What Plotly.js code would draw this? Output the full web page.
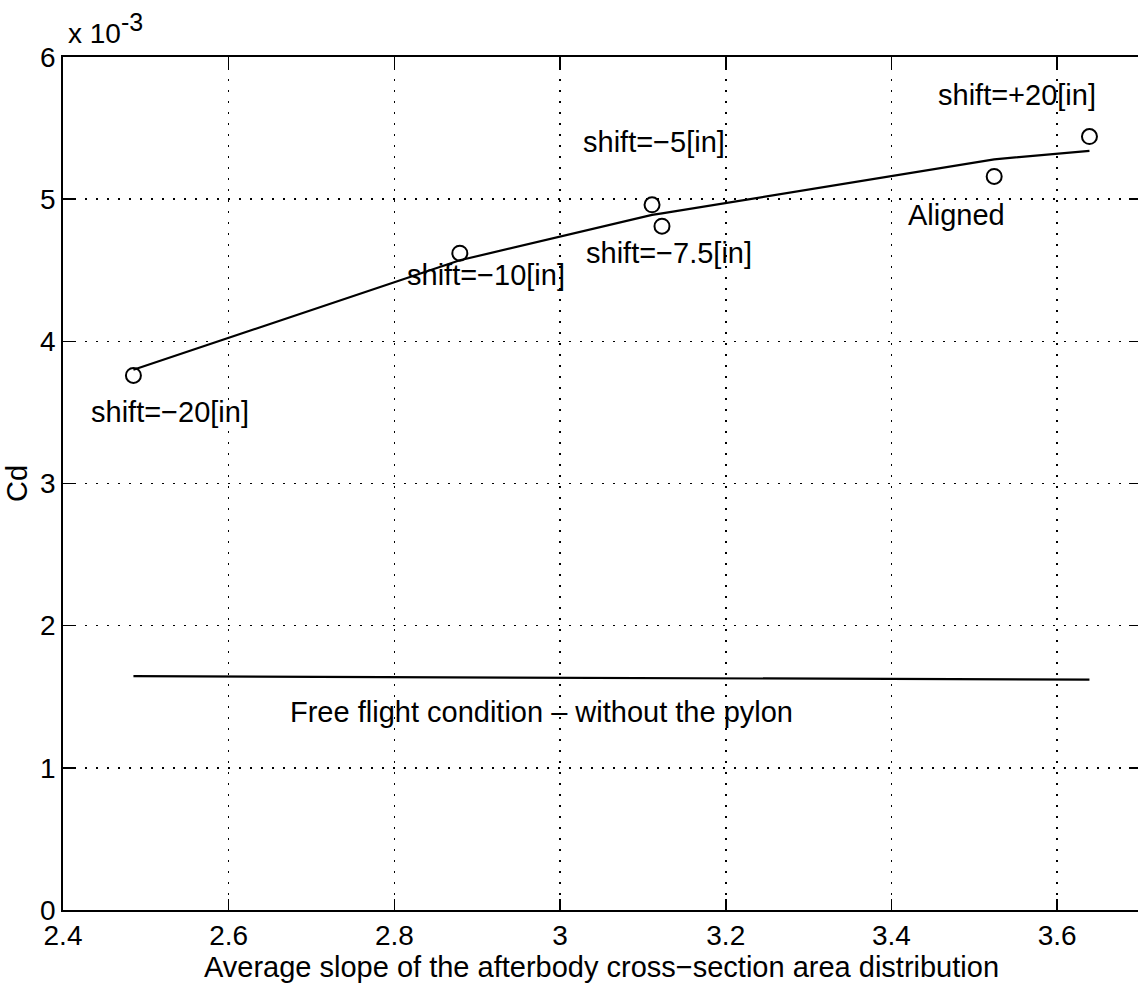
<!DOCTYPE html>
<html>
<head>
<meta charset="utf-8">
<script src="https://cdn.plot.ly/plotly-3.0.1.min.js"></script>
<style>
html,body{margin:0;padding:0;overflow:hidden;background:#fff;}
#chart{width:1141px;height:984px;}
</style>
</head>
<body>
<div id="chart"></div>
<script>
// Measured configurations (average afterbody slope vs Cd)
const slope = [2.485, 2.879, 3.111, 3.123, 3.524, 3.639];
const cd = [3.76e-3, 4.62e-3, 4.96e-3, 4.81e-3, 5.16e-3, 5.44e-3];
const caseLabels = ["shift=−20[in]", "shift=−10[in]", "shift=−5[in]", "shift=−7.5[in]", "Aligned", "shift=+20[in]"];
// Fitted trend line
const fitSlope = [2.485, 2.879, 3.111, 3.123, 3.524, 3.639];
const fitCd = [3.80e-3, 4.57e-3, 4.89e-3, 4.90e-3, 5.28e-3, 5.34e-3];
// Free flight reference (no pylon)
const freeSlope = [2.485, 3.639];
const freeCd = [1.645e-3, 1.62e-3];
const freeLabel = "Free flight condition – without the pylon";
// Tick labels
const yTickVals = [0, 1e-3, 2e-3, 3e-3, 4e-3, 5e-3, 6e-3];
const yTickText = ["0", "1", "2", "3", "4", "5", "6"];
const xTickVals = [2.4, 2.6, 2.8, 3.0, 3.2, 3.4, 3.6];
const xTickText = ["2.4", "2.6", "2.8", "3", "3.2", "3.4", "3.6"];

const FONT = "Liberation Sans, Arial, Helvetica, sans-serif";

const traces = [
  {x: fitSlope, y: fitCd, mode: "lines", line: {color: "black", width: 2.2}, hoverinfo: "skip"},
  {x: freeSlope, y: freeCd, mode: "lines", line: {color: "black", width: 2.2}, hoverinfo: "skip"},
  {x: slope, y: cd, mode: "markers", marker: {symbol: "circle-open", size: 15, color: "black", line: {color: "black", width: 2}}, hoverinfo: "skip"}
];

const labelPos = [
  [2.529, 3.50e-3], [2.910, 4.47e-3], [3.113, 5.40e-3], [3.132, 4.62e-3], [3.478, 4.89e-3], [3.551, 5.73e-3]
];
const annotations = caseLabels.map((t, i) => ({
  x: labelPos[i][0], y: labelPos[i][1], xref: "x", yref: "y", text: t, showarrow: false,
  xanchor: "center", yanchor: "middle", font: {family: FONT, size: 29, color: "black"}
}));
annotations.push({
  x: 2.977, y: 1.39e-3, xref: "x", yref: "y", text: freeLabel, showarrow: false,
  xanchor: "center", yanchor: "middle", font: {family: FONT, size: 29, color: "black"}
});
annotations.push({
  x: 0, y: 1, xref: "paper", yref: "paper", xshift: 3, yshift: 6,
  text: "x 10<sup><span style='font-size:25px'>-3</span></sup>", showarrow: false,
  xanchor: "left", yanchor: "bottom", font: {family: FONT, size: 28, color: "black"}
});

const gridDash = "2px,9px";
const layout = {
  width: 1141, height: 984,
  margin: {l: 63, r: 1, t: 57, b: 74},
  paper_bgcolor: "white", plot_bgcolor: "white",
  showlegend: false,
  font: {family: FONT, size: 28, color: "black"},
  xaxis: {
    range: [2.4, 3.7], tickvals: xTickVals, ticktext: xTickText,
    ticks: "inside", ticklen: 11, tickwidth: 1.5, tickcolor: "black",
    showline: true, linecolor: "black", linewidth: 1.8, mirror: "ticks",
    showgrid: true, gridcolor: "black", gridwidth: 1.5, griddash: gridDash,
    zeroline: false, tickfont: {family: FONT, size: 28, color: "black"},
    title: {text: "Average slope of the afterbody cross−section area distribution", font: {family: FONT, size: 29, color: "black"}, standoff: 0}
  },
  yaxis: {
    range: [0, 6e-3], tickvals: yTickVals, ticktext: yTickText,
    ticks: "inside", ticklen: 11, tickwidth: 1.5, tickcolor: "black",
    showline: true, linecolor: "black", linewidth: 1.8, mirror: "ticks",
    showgrid: true, gridcolor: "black", gridwidth: 1.5, griddash: gridDash,
    zeroline: false, tickfont: {family: FONT, size: 28, color: "black"},
    title: {text: "Cd", font: {family: FONT, size: 29, color: "black"}, standoff: 4}
  },
  annotations: annotations
};

Plotly.newPlot("chart", traces, layout, {staticPlot: true, displayModeBar: false});
</script>
</body>
</html>
